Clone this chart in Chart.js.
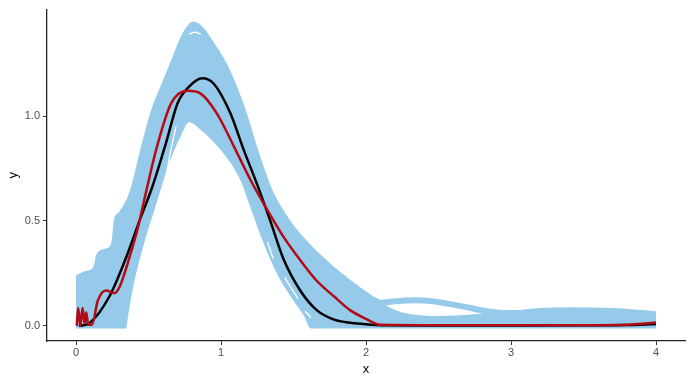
<!DOCTYPE html>
<html>
<head>
<meta charset="utf-8">
<script src="https://cdn.jsdelivr.net/npm/chart.js@4/dist/chart.umd.min.js"></script>
<style>
  body { margin: 0; background: #fff; }
  canvas { display: block; }
</style>
</head>
<body>
<canvas id="densChart" width="692" height="383"></canvas>
<script>
// tick positions
const xTicks = [0, 1, 2, 3, 4];
const yTicks = [0, 0.5, 1.0];

// outer edge of the light blue bundle of curves
const bandTopX = [0, 0.06, 0.12, 0.14, 0.21, 0.245, 0.26, 0.30, 0.37, 0.44, 0.51, 0.60, 0.67, 0.74, 0.81, 0.88, 0.95, 1.04, 1.16, 1.27, 1.36, 1.48, 1.60, 1.75, 1.90, 2.02, 2.10, 2.17, 2.25, 2.50, 2.80, 2.95, 3.20, 3.40, 3.70, 4.0];
const bandTopY = [0.24, 0.26, 0.28, 0.34, 0.37, 0.40, 0.50, 0.545, 0.64, 0.83, 1.01, 1.17, 1.29, 1.40, 1.45, 1.42, 1.35, 1.25, 1.05, 0.81, 0.64, 0.50, 0.40, 0.30, 0.215, 0.155, 0.115, 0.085, 0.064, 0.047, 0.058, 0.068, 0.085, 0.089, 0.085, 0.07];
// inner edge (white area under the bundle)
const bandLowX = [0, 0.345, 0.36, 0.39, 0.46, 0.553, 0.645, 0.72, 0.78, 0.857, 0.995, 1.13, 1.20, 1.29, 1.40, 1.50, 1.57, 1.62, 4.0];
const bandLowY = [-0.012, -0.012, 0.05, 0.17, 0.37, 0.58, 0.78, 0.90, 0.97, 0.936, 0.84, 0.70, 0.57, 0.40, 0.23, 0.12, 0.05, -0.012, -0.012];

// the single blue curve with the bump after x = 2
const bumpX = [2.05, 2.10, 2.20, 2.33, 2.45, 2.56, 2.70, 2.81, 2.95, 3.05];
const bumpY = [0.125, 0.11, 0.117, 0.122, 0.118, 0.106, 0.088, 0.072, 0.062, 0.062];

// thin white gaps between the blue curves
const gapX = [0.61, 0.655, 0.69, null, 1.32, 1.36, null, 1.44, 1.53, null, 1.58, 1.62, null, 0.78, 0.82, 0.86];
const gapY = [0.67, 0.84, 0.95, null, 0.40, 0.32, null, 0.23, 0.13, null, 0.07, 0.04, null, 1.39, 1.40, 1.39];

// black curve
const blackX = [0.02, 0.092, 0.23, 0.345, 0.4375, 0.53, 0.62, 0.70, 0.78, 0.87, 0.949, 1.064, 1.156, 1.26, 1.34, 1.43, 1.55, 1.66, 1.78, 1.96, 2.10, 2.5, 3.0, 3.5, 3.9, 4.0];
const blackY = [0.0, 0.013, 0.14, 0.325, 0.50, 0.67, 0.87, 1.06, 1.14, 1.18, 1.155, 1.014, 0.84, 0.654, 0.50, 0.32, 0.165, 0.075, 0.03, 0.01, 0.003, 0.002, 0.002, 0.003, 0.006, 0.009];

// red curve
const redX = [0.005, 0.015, 0.03, 0.045, 0.06, 0.07, 0.085, 0.11, 0.15, 0.207, 0.265, 0.30, 0.368, 0.426, 0.484, 0.553, 0.656, 0.77, 0.857, 0.97, 1.087, 1.20, 1.317, 1.43, 1.55, 1.66, 1.78, 1.89, 2.01, 2.10, 2.5, 3.0, 3.5, 3.8, 3.9, 4.0];
const redY = [0.0, 0.085, 0.0, 0.085, 0.01, 0.065, 0.005, 0.005, 0.12, 0.169, 0.156, 0.185, 0.325, 0.466, 0.64, 0.84, 1.06, 1.12, 1.108, 1.014, 0.858, 0.70, 0.555, 0.425, 0.31, 0.215, 0.14, 0.075, 0.03, 0.005, 0.003, 0.003, 0.003, 0.005, 0.01, 0.016];

const BLUE = '#96caea';

function pts(xs, ys) {
    return xs.map((x, i) => ({ x: x === null ? NaN : x, y: ys[i] }));
}

const tickFont = { family: 'Liberation Sans, Arial, sans-serif', size: 11 };
const titleFont = { family: 'Liberation Sans, Arial, sans-serif', size: 13 };

new Chart(document.getElementById('densChart'), {
    type: 'line',
    data: {
        datasets: [
            { data: pts(redX, redY), borderColor: '#b40a14', borderWidth: 2.5, pointRadius: 0, cubicInterpolationMode: 'monotone', fill: false },
            { data: pts(blackX, blackY), borderColor: '#000000', borderWidth: 2.5, pointRadius: 0, cubicInterpolationMode: 'monotone', fill: false },
            { data: pts(gapX, gapY), borderColor: '#ffffff', borderWidth: 1.3, pointRadius: 0, cubicInterpolationMode: 'monotone', fill: false, spanGaps: false },
            { data: pts(bumpX, bumpY), borderColor: BLUE, borderWidth: 6, pointRadius: 0, cubicInterpolationMode: 'monotone', fill: false },
            { data: pts(bandTopX, bandTopY), borderColor: BLUE, borderWidth: 0, pointRadius: 0, cubicInterpolationMode: 'monotone', fill: '+1', backgroundColor: BLUE },
            { data: pts(bandLowX, bandLowY), borderColor: BLUE, borderWidth: 0, pointRadius: 0, cubicInterpolationMode: 'monotone', fill: false }
        ]
    },
    options: {
        responsive: false,
        animation: false,
        events: [],
        layout: { padding: { top: 5, right: 7, left: 0, bottom: 0 } },
        plugins: {
            legend: { display: false },
            tooltip: { enabled: false }
        },
        scales: {
            x: {
                type: 'linear',
                min: -0.2,
                max: 4.2,
                afterBuildTicks: s => { s.ticks = xTicks.map(v => ({ value: v })); },
                afterFit: s => { s.height = 42; },
                ticks: { color: '#4d4d4d', font: tickFont, padding: 1, maxRotation: 0, autoSkip: false, callback: v => String(v) },
                grid: { drawOnChartArea: false, drawTicks: true, tickLength: 4, color: '#333333', lineWidth: 1 },
                border: { display: true, color: '#222222', width: 1.3 },
                title: { display: true, text: 'x', color: '#000000', font: titleFont, padding: { top: 0, bottom: 6 } }
            },
            y: {
                type: 'linear',
                min: -0.072,
                max: 1.507,
                afterBuildTicks: s => { s.ticks = yTicks.map(v => ({ value: v })); },
                afterFit: s => { s.width = 47; },
                ticks: { color: '#4d4d4d', font: tickFont, padding: 3, autoSkip: false, callback: v => v.toFixed(1) },
                grid: { drawOnChartArea: false, drawTicks: true, tickLength: 4, color: '#333333', lineWidth: 1 },
                border: { display: true, color: '#222222', width: 1.3 },
                title: { display: true, text: 'y', color: '#000000', font: titleFont, padding: { top: 6, bottom: 0 } }
            }
        }
    }
});
</script>
</body>
</html>
